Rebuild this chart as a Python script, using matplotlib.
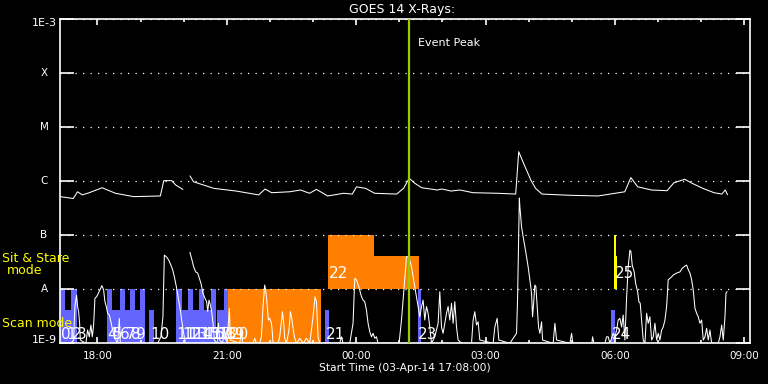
"""GOES 14 X-ray flux for 03/04-Apr-2014 with the IRIS observing timeline
(scan mode / sit & stare bars) drawn underneath, IDL-style black plot."""
import matplotlib.pyplot as plt
from matplotlib.ticker import MultipleLocator, FixedLocator, NullFormatter

nan = float("nan")

# time axis: hours after 00:00 03-Apr-14 (values > 24 are 04-Apr)
T_START = 17 + 8 / 60
T_END = 33 + 8 / 60

# GOES long channel (1-8 A), W/m^2 ; NaN = data gap
hi_time = [17.14, 17.44, 17.54, 17.65, 17.80, 18.11, 18.42, 18.84, 19.46, 19.54,
           19.72, 19.82, 19.98, 20.06, 20.15, 20.23, 20.70, 21.22, 21.74, 21.89,
           22.04, 22.46, 22.71, 22.92, 23.08, 23.34, 23.71, 23.91, 24.01, 24.22,
           24.43, 24.94, 25.10, 25.23, 25.36, 25.52, 25.88, 25.99, 26.20, 26.41,
           26.71, 27.28, 27.70, 27.77, 27.90, 28.05, 28.16, 28.31, 28.98, 29.61,
           30.23, 30.37, 30.53, 30.85, 31.21, 31.37, 31.62, 31.79, 32.04, 32.30,
           32.48, 32.56, 32.61]
hi_flux = [5.2e-7, 4.8e-7, 6.4e-7, 5.6e-7, 6.1e-7, 7.6e-7, 6.0e-7, 5.2e-7, 5.35e-7, 1.03e-6,
           1.03e-6, 8.5e-7, 7.1e-7, nan, 1.25e-6, 9.8e-7, 7.4e-7, 6.6e-7, 5.6e-7, 7.2e-7,
           6.15e-7, 6.4e-7, 6.9e-7, 6.0e-7, 7.1e-7, 5.35e-7, 6.0e-7, 5.8e-7, 7.9e-7, 7.4e-7,
           6.0e-7, 5.8e-7, 7.4e-7, 1.14e-6, 9.2e-7, 7.6e-7, 6.9e-7, 7.2e-7, 6.6e-7, 6.9e-7,
           6.15e-7, 6.0e-7, 5.8e-7, 3.53e-6, 2.0e-6, 1.06e-6, 7.4e-7, 5.8e-7, 5.5e-7, 5.35e-7,
           6.4e-7, 1.17e-6, 7.9e-7, 6.9e-7, 6.7e-7, 9.4e-7, 1.09e-6, 9.2e-7, 7.4e-7, 6.15e-7,
           5.8e-7, 6.9e-7, 5.7e-7]

# GOES short channel (0.5-4 A), W/m^2 ; 1e-9 sits on the bottom axis
lo_time = [17.154, 17.386, 17.449, 17.479, 17.518, 17.541, 17.565, 17.588, 17.604, 17.734,
           17.773, 17.813, 17.850, 17.882, 17.913, 17.943, 17.982, 18.022, 18.059, 18.105,
           18.145, 18.175, 18.207, 18.237, 18.277, 18.314, 18.353, 18.407, 18.469, 18.509,
           18.532, 19.398, 19.474, 19.520, 19.553, 19.599, 19.653, 19.706, 19.746, 19.785,
           19.831, 19.878, 19.924, 19.954, 20.001, 20.040, 20.090, 20.147, 20.193, 20.233,
           20.279, 20.326, 20.365, 20.402, 20.449, 20.495, 20.534, 20.558, 20.588, 20.620,
           20.650, 20.681, 20.713, 20.773, 20.806, 20.836, 20.906, 20.945, 20.968, 21.022,
           21.061, 21.084, 21.300, 21.339, 21.370, 21.609, 21.648, 21.688, 21.764, 21.804,
           21.841, 21.880, 21.903, 21.933, 21.966, 21.996, 22.036, 22.059, 22.073, 22.189,
           22.228, 22.268, 22.291, 22.321, 22.344, 22.384, 22.444, 22.476, 22.507, 22.537,
           22.569, 22.616, 22.692, 22.769, 22.848, 22.924, 23.001, 23.047, 23.080, 23.117,
           23.156, 23.620, 23.660, 23.697, 23.852, 23.929, 23.968, 24.008, 24.061, 24.124,
           24.161, 24.200, 24.240, 24.277, 24.316, 24.356, 24.393, 24.432, 24.472, 24.509,
           24.996, 25.052, 25.089, 25.128, 25.168, 25.205, 25.244, 25.284, 25.321, 25.360,
           25.400, 25.437, 25.476, 25.516, 25.553, 25.592, 25.632, 25.669, 25.708, 25.748,
           25.824, 25.901, 25.940, 25.980, 26.017, 26.096, 26.133, 26.172, 26.212, 26.249,
           26.288, 26.328, 26.365, 26.444, 26.676, 26.713, 26.752, 26.792, 26.829, 26.868,
           27.177, 27.216, 27.270, 27.309, 27.565, 27.720, 27.743, 27.785, 27.797, 27.836,
           27.873, 27.913, 27.952, 27.989, 28.029, 28.068, 28.091, 28.121, 28.144, 28.168,
           28.198, 28.230, 28.261, 28.300, 28.323, 28.569, 28.609, 28.648, 28.957, 28.996,
           29.026, 29.467, 29.483, 29.514, 29.769, 29.808, 29.845, 29.885, 29.961, 30.001,
           30.040, 30.077, 30.117, 30.156, 30.193, 30.233, 30.271, 30.309, 30.348, 30.372,
           30.402, 30.448, 30.481, 30.527, 30.557, 30.588, 30.620, 30.657, 30.697, 30.736,
           30.773, 30.812, 30.852, 30.889, 30.929, 30.968, 31.005, 31.044, 31.084, 31.121,
           31.161, 31.200, 31.237, 31.277, 31.316, 31.353, 31.432, 31.509, 31.562, 31.625,
           31.664, 31.702, 31.741, 31.780, 31.817, 31.857, 31.896, 31.933, 31.973, 32.012,
           32.049, 32.089, 32.128, 32.165, 32.205, 32.244, 32.397, 32.437, 32.476, 32.513,
           32.553, 32.576, 32.599]
lo_flux = [1.0e-9, 1.0e-9, 1.15e-9, 4.8e-9, 7.8e-9, 4.8e-9, 3.85e-9, 2.35e-9, 1.15e-9, 1.0e-9,
           1.76e-9, 1.32e-9, 2.18e-9, 1.32e-9, 2.18e-9, 6.8e-9, 7.3e-9, 8.4e-9, 9.7e-9, 1.17e-8,
           9.7e-9, 5.9e-9, 4.8e-9, 3.6e-9, 3.34e-9, 2.5e-9, 1.76e-9, 1.24e-9, 1.0e-9, 2.9e-9,
           1.0e-9, 1.0e-9, 1.32e-9, 3.1e-9, 4.3e-8, 4.0e-8, 3.5e-8, 2.8e-8, 2.3e-8, 1.7e-8,
           1.12e-8, 6.8e-9, 4.1e-9, 2.7e-9, 1.53e-9, 1.0e-9, nan, 4.8e-8, 3.5e-8, 2.6e-8,
           2.1e-8, 2.0e-8, 1.6e-8, 1.29e-8, 8.4e-9, 6.8e-9, 5.9e-9, 3.85e-9, 6.3e-9, 5.1e-9,
           3.85e-9, 2.35e-9, 1.15e-9, 1.0e-9, 2.35e-9, 1.15e-9, 1.0e-9, 2.0e-9, 1.15e-9, 1.53e-9,
           4.45e-9, 1.15e-9, 1.0e-9, 1.64e-9, 1.0e-9, 1.0e-9, 1.24e-9, 1.0e-9, 1.0e-9, 1.32e-9,
           4.8e-9, 1.2e-8, 9.7e-9, 5.5e-9, 2.7e-9, 2.9e-9, 2.35e-9, 1.53e-9, 1.0e-9, 1.0e-9,
           1.32e-9, 2.5e-9, 3.85e-9, 2.35e-9, 1.24e-9, 1.0e-9, 1.76e-9, 3.85e-9, 2.9e-9, 1.9e-9,
           1.32e-9, 1.0e-9, 1.24e-9, 1.0e-9, 1.24e-9, 1.0e-9, 3.1e-9, 7.3e-9, 5.9e-9, 1.32e-9,
           1.0e-9, 1.0e-9, 1.32e-9, 1.0e-9, 1.0e-9, 2.35e-9, 1.6e-8, 1.5e-8, 1.12e-8, 7.3e-9,
           6.3e-9, 5.9e-9, 4.1e-9, 2.35e-9, 1.64e-9, 1.32e-9, 1.53e-9, 1.24e-9, 1.32e-9, 1.0e-9,
           1.0e-9, 2.7e-9, 6.3e-9, 1.5e-8, 4.0e-8, 4.0e-8, 3.5e-8, 2.6e-8, 1.7e-8, 1.12e-8,
           7.3e-9, 4.8e-9, 3.1e-9, 4.8e-9, 6.3e-9, 2.7e-9, 4.8e-9, 3.6e-9, 2.0e-9, 1.0e-9,
           1.32e-9, 2.35e-9, 9.0e-9, 2.0e-9, 1.53e-9, 3.6e-9, 4.8e-9, 2.7e-9, 5.5e-9, 2.35e-9,
           5.9e-9, 2.0e-9, 1.15e-9, 1.0e-9, 1.0e-9, 2.7e-9, 3.85e-9, 2.18e-9, 2.5e-9, 1.15e-9,
           1.0e-9, 2.0e-9, 2.9e-9, 1.15e-9, 1.0e-9, 1.53e-9, 6.3e-9, 4.9e-7, 3.4e-7, 1.44e-7,
           9.4e-8, 6.15e-8, 4.0e-8, 2.6e-8, 1.5e-8, 8.4e-9, 3.1e-9, 6.3e-9, 1.2e-8, 1.12e-8,
           4.8e-9, 2.0e-9, 1.53e-9, 2.5e-9, 1.15e-9, 1.0e-9, 2.35e-9, 1.15e-9, 1.0e-9, 1.53e-9,
           1.0e-9, 1.0e-9, 1.32e-9, 1.0e-9, 1.0e-9, 1.32e-9, 1.32e-9, 1.0e-9, 1.53e-9, 1.32e-9,
           1.76e-9, 2.7e-9, 2.9e-9, 2.0e-9, 3.34e-9, 1.15e-9, 6.8e-9, 2.6e-8, 5.3e-8, 5.0e-8,
           2.8e-8, 2.1e-8, 1.29e-8, 9.0e-9, 5.9e-9, 5.5e-9, 2.7e-9, 1.15e-9, 1.0e-9, 3.6e-9,
           2.35e-9, 3.1e-9, 1.15e-9, 1.32e-9, 2.35e-9, 1.15e-9, 1.53e-9, 1.15e-9, 1.76e-9, 2.0e-9,
           2.7e-9, 4.8e-9, 1.5e-8, 1.6e-8, 1.7e-8, 1.84e-8, 2.0e-8, 2.1e-8, 2.45e-8, 2.7e-8,
           2.8e-8, 2.3e-8, 2.0e-8, 1.5e-8, 9.7e-9, 4.45e-9, 3.6e-9, 3.1e-9, 2.35e-9, 2.7e-9,
           1.15e-9, 1.32e-9, 1.9e-9, 1.15e-9, 1.76e-9, 1.0e-9, 1.0e-9, 1.32e-9, 2.18e-9, 1.15e-9,
           3.1e-9, 8.4e-9, 9.0e-9]

# IRIS timeline: one rectangle per segment (scan band 1e-9..1e-8, sit & stare 1e-8..1e-7)
seg_start = [17.133, 17.247, 17.386, 18.221, 18.337, 18.516, 18.632, 18.764, 18.871, 18.996,
             19.205, 19.822, 19.954, 20.094, 20.210, 20.365, 20.481, 20.634, 20.773, 20.945,
             21.038, 23.273, 23.343, 24.410, 25.424, 29.908, 29.978, 30.017]
seg_end = [17.247, 17.386, 17.518, 18.337, 18.516, 18.632, 18.764, 18.871, 18.996, 19.103,
           19.321, 19.954, 20.094, 20.210, 20.365, 20.481, 20.634, 20.750, 20.945, 21.038,
           23.180, 23.366, 24.410, 25.454, 25.500, 30.001, 30.017, 30.041]
seg_bottom = [1e-9] * 22 + [1e-8, 1e-8, 1e-9, 1e-9, 1e-8, 1e-8]
seg_top = [1e-8, 4.1e-9, 1e-8, 1e-8, 4.1e-9, 1e-8, 4.1e-9, 1e-8, 4.1e-9, 1e-8,
           4.1e-9, 1e-8, 4.1e-9, 1e-8, 4.1e-9, 1e-8, 4.1e-9, 1e-8, 4.1e-9, 1e-8,
           1e-8, 4.1e-9, 1e-7, 4.1e-8, 1e-8, 4.1e-9, 1e-7, 4.1e-8]
seg_color = ["#6464ff"] * 20 + ["#ff8000", "#6464ff", "#ff8000", "#ff8000",
                                "#6464ff", "#6464ff", "#ffff00", "#ffff00"]

# observation numbers written at the start of each observation
obs_label = [str(i) for i in range(26)]
obs_time = [17.15, 17.27, 17.40, 17.53, 18.24, 18.35, 18.53, 18.65, 18.78, 18.89,
            19.22, 19.84, 19.97, 20.11, 20.23, 20.38, 20.50, 20.65, 20.79, 20.96,
            21.08, 23.29, 23.36, 25.44, 29.93, 30.00]
obs_base = [1.2e-9] * 22 + [1.62e-8, 1.2e-9, 1.2e-9, 1.62e-8]

EVENT_PEAK = 25.215

class_flux = [1e-3, 1e-4, 1e-5, 1e-6, 1e-7, 1e-8, 1e-9]
class_name = ["1E-3", "X", "M", "C", "B", "A", "1E-9"]
hour_ticks = [18, 21, 24, 27, 30, 33]
hour_labels = ["18:00", "21:00", "00:00", "03:00", "06:00", "09:00"]

W, H = 768, 384
fig = plt.figure(figsize=(W / 100, H / 100), dpi=100, facecolor="black")
ax = fig.add_axes([60 / W, (H - 343.3) / H, 690 / W, 324 / H], facecolor="black")
ax.set_yscale("log")
ax.set_ylim(1e-9, 1e-3)
ax.set_xlim(T_START, T_END)

for s, e, b, t, c in zip(seg_start, seg_end, seg_bottom, seg_top, seg_color):
    ax.bar(s, t - b, width=e - s, bottom=b, align="edge", color=c, linewidth=0, zorder=1)

for lab, t, y in zip(obs_label, obs_time, obs_base):
    ax.text(t, y, lab, color="white", fontsize=11, va="baseline", ha="left", zorder=4)

ax.plot(hi_time, hi_flux, color="white", lw=0.75, zorder=3)
ax.plot(lo_time, lo_flux, color="white", lw=0.75, zorder=3)

ax.axvline(EVENT_PEAK, color="#99cc00", lw=1.6, zorder=5)
ax.text(EVENT_PEAK + 0.22, 10 ** -3.435, "Event Peak", color="white", fontsize=8,
        va="center", ha="left")

# axes / ticks
for sp in ax.spines.values():
    sp.set_color("white")
    sp.set_linewidth(1.2)
ax.yaxis.set_major_locator(FixedLocator(class_flux))
ax.yaxis.set_minor_locator(FixedLocator([]))
ax.yaxis.set_major_formatter(NullFormatter())
ax.yaxis.set_minor_formatter(NullFormatter())
ax.tick_params(axis="y", which="major", direction="in", length=10, width=1.2,
               color="white", left=True, right=True)
ax.grid(axis="y", color="white", linestyle=(0, (1, 5)), linewidth=0.9)
ax.set_axisbelow(False)

ax.xaxis.set_major_locator(FixedLocator(hour_ticks))
ax.xaxis.set_minor_locator(MultipleLocator(1))
ax.set_xticklabels(hour_labels)
ax.tick_params(axis="x", which="major", direction="in", length=4.5, width=1.2,
               color="white", top=True, bottom=True, labelcolor="white",
               labelsize=7.5, pad=5.5)
ax.tick_params(axis="x", which="minor", direction="in", length=2.5, width=1.2,
               color="white", top=True, bottom=True)

ytf = ax.get_yaxis_transform()
for f, name in zip(class_flux, class_name):
    if name.startswith("1E"):
        yy = 10 ** -3.07 if name == "1E-3" else 10 ** -8.93
        ax.text(-3 / 690, yy, name, transform=ytf, ha="right", va="center",
                color="white", fontsize=8, clip_on=False)
    else:
        ax.text(-16 / 690, f, name, transform=ytf, ha="center", va="center",
                color="white", fontsize=7.5, clip_on=False)

fig.text(402 / W, 1 - 9.5 / H, "GOES 14 X-Rays:", color="white", fontsize=9,
         ha="center", va="center")
fig.text(405 / W, 1 - 368 / H, "Start Time (03-Apr-14 17:08:00)", color="white",
         fontsize=7.7, ha="center", va="center")
fig.text(2 / W, 1 - 258.5 / H, "Sit & Stare", color="yellow", fontsize=9,
         ha="left", va="center")
fig.text(24.5 / W, 1 - 271 / H, "mode", color="yellow", fontsize=9,
         ha="center", va="center")
fig.text(2 / W, 1 - 323.5 / H, "Scan mode", color="yellow", fontsize=9,
         ha="left", va="center")

fig.savefig("out.png", dpi=100, facecolor="black")
